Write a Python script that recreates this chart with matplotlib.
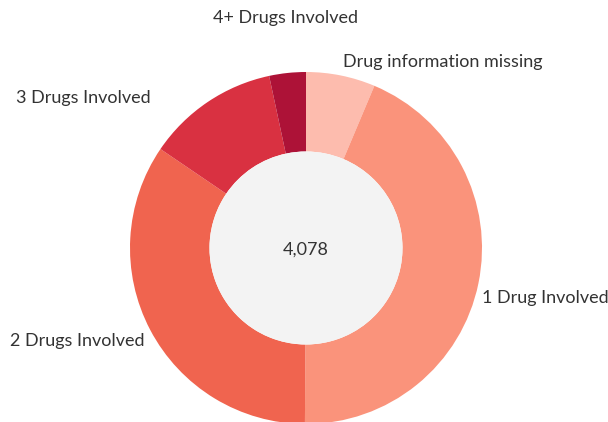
#! /usr/bin/env python3

import matplotlib.pyplot as plt
from matplotlib.patches import Circle

# slices clockwise from 12 o'clock
categories = ["Drug information missing", "1 Drug Involved", "2 Drugs Involved",
              "3 Drugs Involved", "4+ Drugs Involved"]
counts = [259, 1784, 1403, 495, 137]
colors = ["#fdbcae", "#fa937b", "#f0644f", "#d93141", "#ad1237"]
total_label = "4,078"

# label anchors (pixel coords, left edge of text)
label_pos = [(343, 62), (482, 298), (10, 341), (16, 98), (213, 18)]

plt.rcParams['font.family'] = ['Lato', 'DejaVu Sans']

fig = plt.figure(figsize=(6.08, 4.22), dpi=100)
ax = fig.add_axes([0, 0, 1, 1])
ax.set_xlim(0, 608)
ax.set_ylim(422, 0)
ax.set_aspect('equal')
ax.axis('off')

cx, cy = 306, 248
r_out, r_in = 176, 96.5

# y axis is flipped, so counterclock=True runs clockwise on screen
wedges, _ = ax.pie(counts, colors=colors, startangle=-90, counterclock=True,
                   center=(cx, cy), radius=r_out,
                   wedgeprops=dict(width=r_out - r_in, linewidth=0))
ax.set_xlim(0, 608)
ax.set_ylim(422, 0)

ax.add_patch(Circle((cx, cy), r_in, facecolor="#f3f3f3", edgecolor="none"))
ax.text(cx, cy + 2, total_label, ha='center', va='center', fontsize=13, color="#333333")

for name, (x, y) in zip(categories, label_pos):
    ax.text(x, y, name, ha='left', va='center', fontsize=13, color="#333333")

fig.savefig("out.png", dpi=100)
